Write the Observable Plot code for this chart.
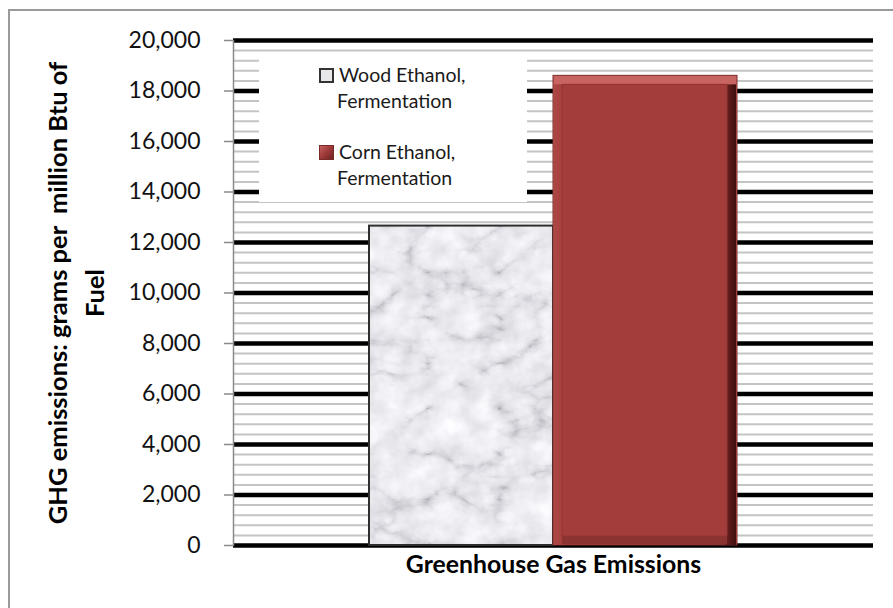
<!DOCTYPE html>
<html>
<head>
<meta charset="utf-8">
<script src="https://cdn.jsdelivr.net/npm/d3@7"></script>
<script src="https://cdn.jsdelivr.net/npm/@observablehq/plot@0.6"></script>
<style>
  html, body { margin: 0; padding: 0; background: #fff; }
  #wrap { position: relative; width: 893px; height: 608px; overflow: hidden; font-family: Lato, "Open Sans", sans-serif; }
  #border { position: absolute; left: 8px; top: 9px; width: 1000px; height: 1000px; border-left: 2.5px solid #9a9a9a; border-top: 2.5px solid #9a9a9a; pointer-events: none; }
  #chart { position: absolute; left: 0; top: 0; }
  #legend { position: absolute; left: 259px; top: 52px; width: 268px; height: 150px; background: #fff; }
  .li { position: absolute; font-size: 19.5px; line-height: 26px; color: #1a1a1a; white-space: nowrap; }
  .sw { position: absolute; width: 15px; height: 15px; box-sizing: border-box; }
</style>
</head>
<body>
<div id="wrap">
  <div id="chart"></div>
  <div id="legend"></div>
  <div id="border"></div>
</div>
<script>
// ---- data ----
const categories = ["Greenhouse Gas Emissions"];
const series = ["Wood Ethanol, Fermentation", "Corn Ethanol, Fermentation"];
const values = [12650, 18600];
const yTicks = [0, 2000, 4000, 6000, 8000, 10000, 12000, 14000, 16000, 18000, 20000];
const minorStep = 400;
const yTitle = "GHG emissions: grams per  million Btu of\nFuel";
const legendLines = [["Wood Ethanol,", "Fermentation"], ["Corn Ethanol,", "Fermentation"]];

const data = series.map((s, i) => ({category: categories[0], series: s, value: values[i]}));
const minorTicks = d3.range(0, yTicks[yTicks.length - 1] + 1, minorStep);

const wood = data.filter(d => d.series === series[0]);
const corn = data.filter(d => d.series === series[1]);

const chart = Plot.plot({
  width: 893,
  height: 608,
  marginLeft: 233,
  marginRight: 20,
  marginTop: 40,
  marginBottom: 63,
  style: {fontFamily: "Lato, 'Open Sans', sans-serif", fontSize: "23px", color: "#000", background: "transparent", overflow: "visible"},
  y: {domain: [0, 20000], label: null},
  fx: {domain: categories, padding: 0, label: null},
  x: {domain: series, paddingInner: 0, paddingOuter: 0.73, axis: null},
  marks: [
    Plot.ruleY(minorTicks, {stroke: "#c4c4c4", strokeWidth: 2}),
    Plot.ruleY(yTicks, {stroke: "#000", strokeWidth: 4.5}),
    Plot.axisY({ticks: yTicks, tickFormat: d3.format(","), tickSize: 9, tickPadding: 24, stroke: "#8a8a8a", strokeWidth: 1.5, label: null, fontSize: 23, fill: "#111"}),
    Plot.frame({anchor: "left", stroke: "#8a8a8a", strokeWidth: 1.5}),
    Plot.axisFx({anchor: "bottom", tickSize: 0, tickPadding: 10, fontWeight: "bold", fontSize: 24.8, label: null}),
    Plot.text([yTitle], {frameAnchor: "left", textAnchor: "middle", lineAnchor: "middle", dx: -160, rotate: -90, fontWeight: "bold", fontSize: 25.5, lineHeight: 1.45, fill: "#000"}),
    // wood bar (marble)
    Plot.barY(wood, {fx: "category", x: "series", y: "value", fill: "url(#marble)", stroke: "#2e2e2e", strokeWidth: 2}),
    // corn bar (beveled)
    Plot.barY(corn, {fx: "category", x: "series", y: "value", fill: "url(#cornTop)", stroke: "#7a2a29", strokeWidth: 1}),
    Plot.barY(corn, {fx: "category", x: "series", y: "value", fill: "url(#cornSide)", insetTop: 9, insetLeft: 1, insetRight: 1}),
    Plot.barY(corn, {fx: "category", x: "series", y: "value", fill: "#8a3331", insetTop: 9, insetLeft: 9, insetRight: 10, insetBottom: 1}),
    Plot.barY(corn, {fx: "category", x: "series", y: "value", fill: "#a23d3b", stroke: "#933634", strokeWidth: 1, insetTop: 9, insetLeft: 9, insetRight: 10, insetBottom: 9})
  ]
});

// defs: marble pattern and corn gradients
const ns = "http://www.w3.org/2000/svg";
const defs = document.createElementNS(ns, "defs");
defs.innerHTML = `
  <filter id="marbleF" x="0" y="0" width="893" height="608" filterUnits="userSpaceOnUse">
    <feTurbulence type="turbulence" baseFrequency="0.014 0.022" numOctaves="5" seed="11" result="n"/>
    <feColorMatrix in="n" type="matrix" values="1 0 0 0 0  1 0 0 0 0  1 0 0 0 0  0 0 0 0 1" result="g"/>
    <feComponentTransfer in="g" result="veins">
      <feFuncR type="table" tableValues="0.5 0.74 0.87 0.93 0.96 0.97 0.98 0.98 0.99 0.99"/>
      <feFuncG type="table" tableValues="0.5 0.74 0.87 0.93 0.96 0.97 0.98 0.98 0.99 0.99"/>
      <feFuncB type="table" tableValues="0.53 0.77 0.9 0.95 0.98 0.99 0.99 1 1 1"/>
    </feComponentTransfer>
    <feTurbulence type="fractalNoise" baseFrequency="0.05" numOctaves="3" seed="4" result="m"/>
    <feColorMatrix in="m" type="matrix" values="0.35 0 0 0 0.72  0.35 0 0 0 0.72  0.35 0 0 0 0.74  0 0 0 0 1" result="mott"/>
    <feBlend in="veins" in2="mott" mode="multiply"/>
  </filter>
  <pattern id="marble" patternUnits="userSpaceOnUse" x="0" y="0" width="893" height="608">
    <rect x="0" y="0" width="893" height="608" fill="#eee" filter="url(#marbleF)"/>
  </pattern>
  <linearGradient id="cornTop" x1="0" y1="0" x2="0" y2="1">
    <stop offset="0" stop-color="#c86462"/>
    <stop offset="1" stop-color="#b85250"/>
  </linearGradient>
  <linearGradient id="cornSide" x1="0" y1="0" x2="1" y2="0">
    <stop offset="0" stop-color="#ad4745"/>
    <stop offset="0.045" stop-color="#a5403e"/>
    <stop offset="0.05" stop-color="#9a3937"/>
    <stop offset="0.935" stop-color="#8a3230"/>
    <stop offset="0.945" stop-color="#6c2220"/>
    <stop offset="1" stop-color="#3e0e0e"/>
  </linearGradient>`;
chart.insertBefore(defs, chart.firstChild);
document.getElementById("chart").appendChild(chart);

// legend
const legend = document.getElementById("legend");
const swatchStyles = [
  "background:#e6e8ea;border:2px solid #333;",
  "background:linear-gradient(135deg,#c8605e 0%,#a03c3b 45%,#6e2221 100%);border:1px solid #7a2a29;"
];
const rowTops = [10, 87];
legendLines.forEach((lines, i) => {
  const sw = document.createElement("div");
  sw.className = "sw";
  sw.style.cssText = `left:60px;top:${rowTops[i] + 6}px;` + swatchStyles[i];
  legend.appendChild(sw);
  lines.forEach((t, j) => {
    const el = document.createElement("div");
    el.className = "li";
    el.textContent = t;
    el.style.left = (j === 0 ? 80 : 78) + "px";
    el.style.top = (rowTops[i] + j * 26) + "px";
    legend.appendChild(el);
  });
});
</script>
</body>
</html>
